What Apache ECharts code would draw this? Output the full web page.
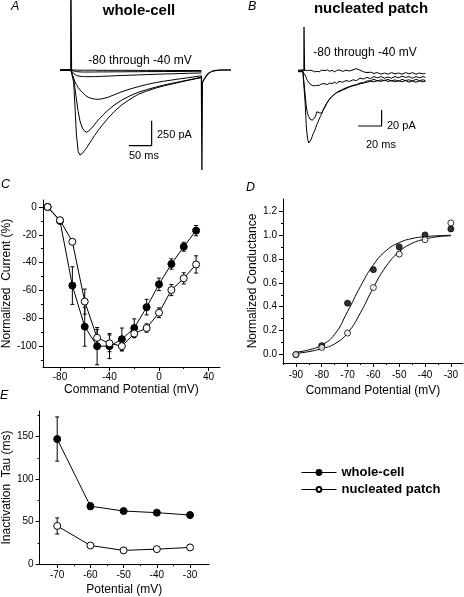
<!DOCTYPE html>
<html><head><meta charset="utf-8">
<script src="https://cdn.jsdelivr.net/npm/echarts@6/dist/echarts.min.js"></script>
<style>html,body{margin:0;padding:0;background:#fff}#c{width:464px;height:597px}</style>
</head><body><div id="c"></div>
<script>
// ---------- Panel A: whole-cell traces (time ms, current pA) ----------
const tA = [-24,0,3,6,9,12,16,20,25,30,35,40,46,52,60,70,82,95,112,130,148,166,185,203,222,240,258,273,287];
const aTr80 = [0,0,0,0,-1,-1,-1,-2,-2,-2,-2,-2,-2,-2,-3,-3,-3,-3,-3,-3,-4,-4,-4,-4,-5,-5,-5,-5,-5];
const aTr75 = [0,0,-4,-9,-13,-16,-18,-19,-20,-20,-20,-20,-20,-20,-19,-19,-19,-18,-18,-17,-17,-16,-16,-15,-15,-14,-14,-13,-13];
const aTr70 = [0,0,-15,-35,-48,-55,-60,-63,-65,-66,-67,-67,-66,-66,-65,-63,-61,-58,-55,-52,-49,-46,-43,-40,-38,-35,-33,-31,-30];
const aTr60 = [0,0,-40,-85,-118,-145,-175,-200,-222,-245,-265,-276,-285,-291,-293,-287,-272,-248,-217,-190,-167,-146,-127,-113,-100,-88,-77,-67,-57];
const aTr50 = [0,0,-15,-90,-190,-290,-417,-510,-580,-612,-622,-605,-580,-545,-500,-453,-400,-352,-300,-258,-223,-197,-173,-152,-133,-117,-100,-85,-70];
const aTr40 = [0,0,-20,-120,-370,-640,-817,-850,-835,-805,-775,-740,-697,-655,-605,-545,-480,-417,-348,-292,-243,-212,-183,-160,-140,-121,-103,-89,-77];
const tAEnd = [287,288,289,292,296,300,305,312,320,330,352];
const aEnd  = [-60,-1000,-130,-100,-70,-45,-25,-10,-3,0,0];
const aArtifactT = [0,0,1];
const aArtifactI = [0,700,0];
const aScaleT = [127.5,177.5,177.5];
const aScaleI = [-757,-757,-507];

// ---------- Panel B: nucleated patch traces ----------
const tB = [-5,-4,-3,-2,-1,0,1,2,3,4,5,6,7,8,9,10,11,12,13,14,15,16,18,20,22,24,26,28,30,33,36,39,42,45,48,51,54,57,60,63,66,69,72,75,78,81,84,87,90,93,96,99,102,104];
const bTr1 = [1,-1.5,1,-0.5,1.5,0,1,-1,0.5,-1,1,-1.5,0.5,1,-1,0.5,-0.5,1.5,-1,0.5,1,-1,0.5,1.5,-0.5,1,-1,0.5,1.5,-0.5,1,0,1.5,3,1,-1,-2,-1.5,-3,-2,-4,-2.5,-4,-2,-3.5,-2.5,-4,-2,-3.5,-2,-4,-2.5,-3.5,-3];
const bTr2 = [-1,1,-0.5,1,-1,0,-5,-9,-12,-14,-16,-17,-18,-17,-18.5,-17,-18,-16.5,-18,-17,-16,-17.5,-16,-17,-15,-16,-14,-15.5,-13,-14,-12,-13,-11,-12,-9,-10,-8,-9.5,-7,-8.5,-7,-9,-7.5,-9,-7,-8.5,-6.5,-8,-7,-9,-7,-8.5,-7,-8];
const bTr3 = [0.5,-1,1,-0.5,0.5,0,-30,-45,-53,-57,-60,-61,-61.5,-61,-59,-56,-51,-49,-52,-54,-53,-50,-44,-39,-35,-32,-29,-27,-25,-23,-21,-19.5,-18,-17,-15,-14.5,-12.5,-12,-10.5,-12.5,-11,-12,-10.5,-12.5,-11,-13,-10.5,-12,-11,-12.5,-10.5,-12,-11,-12];
const bTr4 = [-0.5,1,-1,0.5,-0.5,0,-40,-70,-84,-90,-89,-86,-82,-78,-75,-71,-67,-64,-60,-57,-54,-50,-45,-39,-35,-32,-29,-27,-26,-24,-22,-20,-18.5,-17.5,-16,-15,-14,-13,-13.5,-12,-13,-11.5,-13,-12,-13.5,-12,-13.5,-12,-14,-12.5,-14,-12.5,-13.5,-13];
const bArtifactT = [0,0,0.4];
const bArtifactI = [0,55,0];
const bScaleT = [46.5,66.5,66.5];
const bScaleI = [-68.75,-68.75,-48.75];

// ---------- Panel C: normalized current ----------
const cV = [-90,-80,-70,-60,-50,-40,-30,-20,-10,0,10,20,30];
const cWhole = [0,-10,-56.5,-86,-100,-100,-95,-87,-72,-55.6,-41,-28.6,-17];
const cWholeErr = [1,2,13.5,14,13.4,9,8,6.6,5.6,4.5,3.7,3.2,3.7];
const cPatch = [0,-9.5,-25,-68,-94,-98,-100,-91,-87,-76,-59.7,-51.3,-41.3];
const cPatchErr = [1,1.5,1.5,9,6,6,3.5,3,3,3.5,4,4,6.2];
const cXTicks = [-80,-40,0,40], cXMinor = [-60,-20,20];
const cYTicks = [0,-20,-40,-60,-80,-100], cYMinor = [-10,-30,-50,-70,-90,-110];

// ---------- Panel D: normalized conductance ----------
const dV = [-90,-80,-70,-60,-50,-40,-30];
const dWhole = [0,0.075,0.43,0.71,0.90,1.0,1.05];
const dPatch = [0,0.06,0.18,0.56,0.84,0.96,1.10];
const dFitV = [-90,-85,-80,-75,-70,-65,-60,-55,-50,-45,-40,-35,-30];
const dFitWhole = [0.02,0.04,0.08,0.17,0.36,0.57,0.75,0.87,0.935,0.97,0.985,0.993,0.997];
const dFitPatch = [0.01,0.025,0.05,0.09,0.18,0.35,0.56,0.74,0.86,0.93,0.965,0.985,0.993];
const dXTicks = [-90,-80,-70,-60,-50,-40,-30], dXMinor = [-95,-85,-75,-65,-55,-45,-35];
const dYTicks = [0,0.2,0.4,0.6,0.8,1.0,1.2], dYMinor = [0.1,0.3,0.5,0.7,0.9,1.1];

// ---------- Panel E: inactivation tau ----------
const eV = [-70,-60,-50,-40,-30];
const eWhole = [147,68,62.3,60.4,57.6];
const eWholeErr = [26,4,2,2,3];
const ePatch = [44.8,21.8,16,17.5,19.5];
const ePatchErr = [9.5,2,2,2,1.5];
const eXTicks = [-70,-60,-50,-40,-30], eXMinor = [-65,-55,-45,-35];
const eYTicks = [0,50,100,150], eYMinor = [25,75,125,175];

const FONT = '"Liberation Sans", Arial, Helvetica, sans-serif';
const BLACK = '#000';
const pairs = (xs, ys) => xs.map((x, i) => [x, ys[i]]);
const errData = (xs, ys, es) => xs.map((x, i) => [x, ys[i] - es[i], ys[i] + es[i]]);

function hiddenAxis(grid, min, max) {
  return {gridIndex: grid, type: 'value', min, max, show: false};
}
function mainAxis(grid, min, max, ticks, o) {
  return {
    gridIndex: grid, type: 'value', min, max, position: o.pos,
    axisLine: {show: true, onZero: false, lineStyle: {color: BLACK, width: 1}},
    axisTick: {show: true, inside: false, length: 4, customValues: ticks, lineStyle: {color: BLACK, width: 1}},
    axisLabel: {show: true, customValues: ticks, color: BLACK, fontSize: o.fs || 10, fontFamily: FONT, margin: o.margin,
      formatter: o.fmt || (v => String(v))},
    splitLine: {show: false},
    name: o.name, nameLocation: 'middle', nameGap: o.gap,
    nameTextStyle: {fontSize: 12, color: BLACK, fontFamily: FONT}
  };
}
function minorAxis(grid, min, max, ticks, pos) {
  return {
    gridIndex: grid, type: 'value', min, max, position: pos,
    axisLine: {show: false, onZero: false},
    axisTick: {show: true, inside: false, length: 2, customValues: ticks, lineStyle: {color: BLACK, width: 1}},
    axisLabel: {show: false}, splitLine: {show: false}
  };
}
function trace(xi, yi, xs, ys, w) {
  return {type: 'line', xAxisIndex: xi, yAxisIndex: yi, data: pairs(xs, ys), symbol: 'none',
    lineStyle: {color: BLACK, width: w || 1}, silent: true, animation: false, z: 2};
}
function errSeries(xi, yi, xs, ys, es) {
  return {
    type: 'custom', xAxisIndex: xi, yAxisIndex: yi, data: errData(xs, ys, es), silent: true, z: 1,
    encode: {x: 0, y: [1, 2]},
    renderItem: function (params, api) {
      const x = api.value(0), lo = api.value(1), hi = api.value(2);
      const a = api.coord([x, hi]), b = api.coord([x, lo]);
      const w = 2;
      const st = {stroke: BLACK, lineWidth: 1};
      return {type: 'group', children: [
        {type: 'line', shape: {x1: a[0], y1: a[1], x2: b[0], y2: b[1]}, style: st},
        {type: 'line', shape: {x1: a[0] - w, y1: a[1], x2: a[0] + w, y2: a[1]}, style: st},
        {type: 'line', shape: {x1: b[0] - w, y1: b[1], x2: b[0] + w, y2: b[1]}, style: st}
      ]};
    }
  };
}
function marked(xi, yi, xs, ys, open, size, name, withLine) {
  return {
    type: withLine ? 'line' : 'scatter', name: name, xAxisIndex: xi, yAxisIndex: yi, data: pairs(xs, ys),
    symbol: 'circle', symbolSize: size, showSymbol: true,
    itemStyle: open ? {color: '#fff', borderColor: BLACK, borderWidth: 1} : {color: BLACK, borderColor: BLACK, borderWidth: 1},
    lineStyle: {color: BLACK, width: 1}, animation: false, z: open ? 4 : 3
  };
}
function txt(text, x, y, size, o) {
  o = o || {};
  return {type: 'text', x: x, y: y, silent: true, style: {
    text: text, fontSize: size, fontFamily: FONT, fill: BLACK,
    fontWeight: o.bold ? 'bold' : 'normal', fontStyle: o.italic ? 'italic' : 'normal',
    textAlign: o.align || 'left', textVerticalAlign: 'middle', align: o.align || 'left', verticalAlign: 'middle'
  }};
}

const chart = echarts.init(document.getElementById('c'), null, {renderer: 'canvas'});
chart.setOption({
  backgroundColor: '#fff',
  animation: false,
  grid: [
    {left: 60, top: 0, width: 171, height: 170},
    {left: 298, top: 20, width: 127, height: 130},
    {left: 40, top: 200, width: 180, height: 167},
    {left: 283, top: 199, width: 180, height: 164},
    {left: 39, top: 411, width: 170, height: 153}
  ],
  xAxis: [
    hiddenAxis(0, -24, 352),
    hiddenAxis(1, -5.14, 103.7),
    mainAxis(2, -93.8, 49.3, cXTicks, {pos: 'bottom', margin: 5, name: 'Command Potential (mV)', gap: 17}),
    minorAxis(2, -93.8, 49.3, cXMinor, 'bottom'),
    mainAxis(3, -95, -25.3, dXTicks, {pos: 'bottom', margin: 7, name: 'Command Potential (mV)', gap: 22}),
    minorAxis(3, -95, -25.3, dXMinor, 'bottom'),
    mainAxis(4, -75.3, -24.3, eXTicks, {pos: 'bottom', margin: 6, name: 'Potential (mV)', gap: 20}),
    minorAxis(4, -75.3, -24.3, eXMinor, 'bottom')
  ],
  yAxis: [
    hiddenAxis(0, -1000, 700),
    hiddenAxis(1, -98.75, 63.75),
    mainAxis(2, -115, 5, cYTicks, {pos: 'left', margin: 6, name: 'Normalized  Current (%)', gap: 24}),
    minorAxis(2, -115, 5, cYMinor, 'left'),
    mainAxis(3, -0.07, 1.3, dYTicks, {pos: 'left', margin: 6, name: 'Normalized Conductance', gap: 24, fmt: v => Number(v).toFixed(1)}),
    minorAxis(3, -0.07, 1.3, dYMinor, 'left'),
    mainAxis(4, 0, 180, eYTicks, {pos: 'left', margin: 6, name: 'Inactivation  Tau (ms)', gap: 25}),
    minorAxis(4, 0, 180, eYMinor, 'left')
  ],
  legend: {
    left: 296, top: 461, orient: 'vertical', itemWidth: 35, itemHeight: 6, itemGap: 4,
    selectedMode: false, data: ['whole-cell', 'nucleated patch'],
    lineStyle: {width: 1, color: BLACK},
    textStyle: {fontSize: 13, fontWeight: 'bold', color: BLACK, fontFamily: FONT}
  },
  series: [
    // A
    trace(0, 0, tA, aTr80), trace(0, 0, tA, aTr75), trace(0, 0, tA, aTr70),
    trace(0, 0, tA, aTr60), trace(0, 0, tA, aTr50), trace(0, 0, tA, aTr40),
    trace(0, 0, tAEnd, aEnd, 1.3), trace(0, 0, aArtifactT, aArtifactI, 1.5),
    trace(0, 0, aScaleT, aScaleI, 1.2),
    // B
    trace(1, 1, tB, bTr1), trace(1, 1, tB, bTr2), trace(1, 1, tB, bTr3), trace(1, 1, tB, bTr4),
    trace(1, 1, bArtifactT, bArtifactI, 1.3),
    trace(1, 1, bScaleT, bScaleI, 1.2),
    // C
    errSeries(2, 2, cV, cWhole, cWholeErr),
    errSeries(2, 2, cV, cPatch, cPatchErr),
    marked(2, 2, cV, cWhole, false, 7, null, true),
    marked(2, 2, cV, cPatch, true, 7, null, true),
    // D
    Object.assign(trace(4, 4, dFitV, dFitWhole), {smooth: true}),
    Object.assign(trace(4, 4, dFitV, dFitPatch), {smooth: true}),
    marked(4, 4, dV, dWhole, false, 6, null, false),
    marked(4, 4, dV, dPatch, true, 6, null, false),
    // E
    errSeries(6, 6, eV, eWhole, eWholeErr),
    errSeries(6, 6, eV, ePatch, ePatchErr),
    marked(6, 6, eV, eWhole, false, 7, 'whole-cell', true),
    marked(6, 6, eV, ePatch, true, 7, 'nucleated patch', true)
  ],
  graphic: [
    txt('A', 11, 7, 12.5, {italic: true}),
    txt('B', 248, 7, 12.5, {italic: true}),
    txt('C', 1, 185, 12.5, {italic: true}),
    txt('D', 246, 188, 12.5, {italic: true}),
    txt('E', 0, 396, 12.5, {italic: true}),
    txt('whole-cell', 139, 11, 15, {bold: true, align: 'center'}),
    txt('nucleated patch', 371, 9, 15, {bold: true, align: 'center'}),
    txt('-80 through -40 mV', 140, 61, 12, {align: 'center'}),
    txt('-80 through -40 mV', 365, 52.5, 12, {align: 'center'}),
    txt('250 pA', 157, 135, 11),
    txt('50 ms', 129, 155.5, 11),
    txt('20 pA', 387, 126, 11),
    txt('20 ms', 366, 145, 11)
  ]
});
</script></body></html>
